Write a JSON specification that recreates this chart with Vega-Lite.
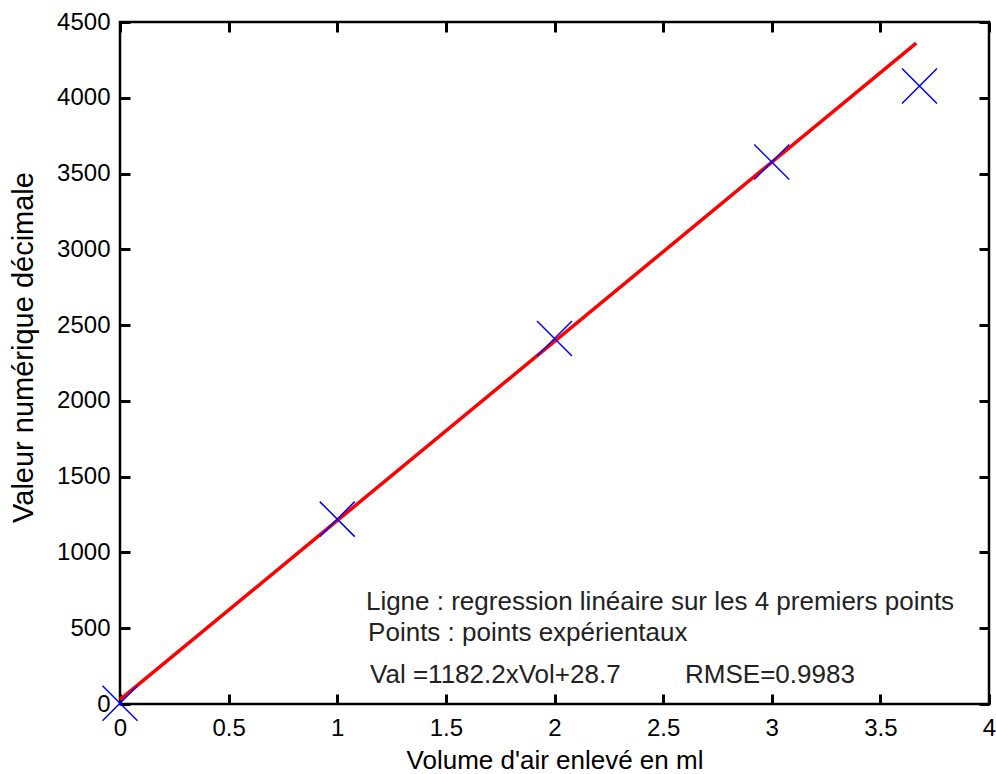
{
  "$schema": "https://vega.github.io/schema/vega-lite/v6.json",
  "autosize": "none",
  "width": 869,
  "height": 682,
  "padding": {"left": 120, "top": 22, "right": 7, "bottom": 70},
  "background": "white",
  "config": {
    "view": {"stroke": "black", "strokeWidth": 2.5},
    "font": "Liberation Sans",
    "axis": {
      "grid": false,
      "ticks": true,
      "domain": false,
      "offset": -10,
      "zindex": 1,
      "tickColor": "black",
      "tickWidth": 3,
      "tickSize": 10,
      "tickOpacity": 1,
      "labelFont": "Liberation Sans",
      "labelFontSize": 24,
      "labelColor": "black",
      "titleFont": "Liberation Sans",
      "titleFontSize": 26,
      "titleFontWeight": "normal",
      "titleColor": "black"
    }
  },
  "datasets": {
    "points": [
      {"vol": 0, "val": 5},
      {"vol": 1, "val": 1220},
      {"vol": 2, "val": 2412},
      {"vol": 3, "val": 3576},
      {"vol": 3.68, "val": 4078}
    ],
    "fit": [
      {"vol": 0, "val": 28.7},
      {"vol": 3.665, "val": 4361}
    ],
    "notes": [
      {"vol": 1.132, "val": 673, "label": "Ligne : regression linéaire sur les 4 premiers points"},
      {"vol": 1.142, "val": 468, "label": "Points : points expérientaux"},
      {"vol": 1.151, "val": 191, "label": "Val =1182.2xVol+28.7"},
      {"vol": 2.601, "val": 191, "label": "RMSE=0.9983"}
    ]
  },
  "resolve": {"axis": {"x": "independent", "y": "independent"}},
  "layer": [
    {
      "data": {"name": "fit"},
      "mark": {"type": "line", "color": "#ff0000", "strokeWidth": 3.5},
      "encoding": {
        "x": {
          "field": "vol", "type": "quantitative",
          "scale": {"domain": [0, 4], "nice": false, "zero": false},
          "axis": {
            "orient": "bottom", "title": "Volume d'air enlevé en ml",
            "values": [0, 0.5, 1, 1.5, 2, 2.5, 3, 3.5, 4], "format": "~g",
            "labelPadding": 12, "labelFlush": false,
            "titleY": 66, "titleBaseline": "middle"
          }
        },
        "y": {
          "field": "val", "type": "quantitative",
          "scale": {"domain": [0, 4500], "nice": false},
          "axis": {
            "orient": "left", "title": "Valeur numérique décimale",
            "values": [0, 500, 1000, 1500, 2000, 2500, 3000, 3500, 4000, 4500], "format": "d",
            "labelPadding": 10, "labelFlush": false,
            "titleFontSize": 29,
            "titleX": -107, "titleY": 325, "titleBaseline": "middle", "titleAngle": -90
          }
        }
      }
    },
    {
      "data": {"name": "points"},
      "mark": {"type": "point", "shape": "M-1,-1L1,1M-1,1L1,-1", "stroke": "#0000ff", "strokeWidth": 1.5, "filled": false, "opacity": 1},
      "encoding": {
        "x": {
          "field": "vol", "type": "quantitative",
          "axis": {"orient": "top", "labels": false, "title": null, "values": [0, 0.5, 1, 1.5, 2, 2.5, 3, 3.5, 4]}
        },
        "y": {
          "field": "val", "type": "quantitative",
          "axis": {"orient": "right", "labels": false, "title": null, "values": [0, 500, 1000, 1500, 2000, 2500, 3000, 3500, 4000, 4500]}
        },
        "size": {"value": 1225}
      }
    },
    {
      "data": {"name": "notes"},
      "mark": {"type": "text", "align": "left", "baseline": "middle", "font": "Liberation Sans", "fontSize": 26, "color": "#222222"},
      "encoding": {
        "x": {"field": "vol", "type": "quantitative", "axis": {"orient": "bottom", "labels": false, "ticks": false, "domain": false, "title": null}},
        "y": {"field": "val", "type": "quantitative", "axis": {"orient": "left", "labels": false, "ticks": false, "domain": false, "title": null}},
        "text": {"field": "label"}
      }
    }
  ]
}
